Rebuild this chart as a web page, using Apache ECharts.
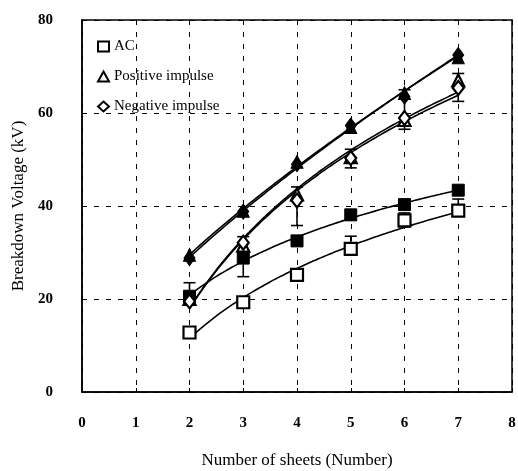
<!DOCTYPE html>
<html>
<head>
<meta charset="utf-8">
<script src="https://cdn.jsdelivr.net/npm/echarts@6/dist/echarts.min.js"></script>
<style>
  html, body { margin: 0; padding: 0; background: #fff; }
  #chart { width: 518px; height: 471px; }
</style>
</head>
<body>
<div id="chart"></div>
<script>
// sheets count
var sheets = [2, 3, 4, 5, 6, 7];

// open markers (legend entries)
var acOpen = [12.8, 19.3, 25.2, 30.8, 36.9, 39.0];
var posOpen = [20.0, 31.5, 42.5, 50.5, 58.5, 67.0];
var negOpen = [19.5, 32.1, 41.2, 50.3, 58.9, 65.4];

// filled markers
var acFilled = [20.6, 28.8, 32.5, 38.1, 40.3, 43.4];
var posFilled = [29.5, 39.0, 49.5, 57.0, 64.3, 72.0];
var negFilled = [28.8, 38.8, 49.0, 57.3, 63.5, 72.5];

// error bars [x, low, high]
var errBars = [
  [2, 19.5, 23.5], [3, 24.8, 33.4],
  [4, 35.8, 44.1], [5, 48.2, 52.2], [7, 62.5, 68.5],
  [6, 56.5, 65.0],
  [5, 30.0, 33.5], [6, 35.5, 38.5], [7, 38.0, 41.5]
];

var xTicks = [0, 1, 2, 3, 4, 5, 6, 7, 8];
var yTicks = [0, 20, 40, 60, 80];

var chart = echarts.init(document.getElementById('chart'));

function pairs(ys) {
  return sheets.map(function (x, i) { return [x, ys[i]]; });
}

// trendline fitted to the points: 'log' -> y = a*ln(x)+b, 'power' -> y = a*x^b
function trend(ys, kind) {
  var n = sheets.length, sx = 0, sy = 0, sxx = 0, sxy = 0;
  for (var i = 0; i < n; i++) {
    var lx = Math.log(sheets[i]);
    var ly = kind === 'power' ? Math.log(ys[i]) : ys[i];
    sx += lx; sy += ly; sxx += lx * lx; sxy += lx * ly;
  }
  var k = (n * sxy - sx * sy) / (n * sxx - sx * sx);
  var c = (sy - k * sx) / n;
  var out = [];
  for (var x = 2; x <= 7.001; x += 0.1) {
    var y = kind === 'power' ? Math.exp(c) * Math.pow(x, k) : k * Math.log(x) + c;
    out.push([x, y]);
  }
  return out;
}

var lineStyle = { color: '#000', width: 1.6 };
function trendSeries(ys, kind) {
  return {
    type: 'line', data: trend(ys, kind), showSymbol: false, smooth: true,
    lineStyle: lineStyle, silent: true, z: 2
  };
}

var openStyle = { color: '#fff', borderColor: '#000', borderWidth: 2.2, opacity: 1 };
var filledStyle = { color: '#000', borderColor: '#000', borderWidth: 1, opacity: 1 };

var font = 'Liberation Serif';

chart.setOption({
  animation: false,
  textStyle: { fontFamily: font },
  grid: {
    left: 82, right: 6, top: 20, bottom: 79,
    outerBoundsMode: 'none',
    show: true, borderColor: '#000', borderWidth: 1.5
  },
  legend: {
    orient: 'vertical', left: 92, top: 34, itemGap: 15,
    itemWidth: 11, itemHeight: 10,
    textStyle: { fontFamily: font, fontSize: 15, color: '#000' },
    data: ['AC', 'Positive impulse', 'Negative impulse']
  },
  xAxis: {
    type: 'value', min: 0, max: 8, interval: 1,
    name: 'Number of sheets (Number)', nameLocation: 'middle', nameGap: 60,
    nameTextStyle: { fontFamily: font, fontSize: 17, color: '#000' },
    axisLine: { lineStyle: { color: '#000', width: 1.5 } },
    axisTick: { inside: true, length: 4, lineStyle: { color: '#000' } },
    axisLabel: { fontFamily: font, fontSize: 15, fontWeight: 'bold', color: '#000', margin: 24,
      formatter: function (v) { return xTicks.indexOf(v) >= 0 ? String(v) : ''; } },
    splitLine: { show: true, lineStyle: { color: '#000', type: [5, 7], width: 1 } }
  },
  yAxis: {
    type: 'value', min: 0, max: 80, interval: 20,
    name: 'Breakdown Voltage (kV)', nameLocation: 'middle', nameGap: 54,
    nameTextStyle: { fontFamily: font, fontSize: 17, color: '#000' },
    axisLine: { show: true, lineStyle: { color: '#000', width: 1.5 } },
    axisTick: { show: true, inside: true, length: 4, lineStyle: { color: '#000' } },
    axisLabel: { fontFamily: font, fontSize: 15, fontWeight: 'bold', color: '#000', margin: 29,
      formatter: function (v) { return yTicks.indexOf(v) >= 0 ? String(v) : ''; } },
    splitLine: { show: true, lineStyle: { color: '#000', type: [5, 7], width: 1 } }
  },
  series: [
    trendSeries(acOpen, 'log'), trendSeries(acFilled, 'log'),
    trendSeries(posOpen, 'log'), trendSeries(posFilled, 'power'),
    trendSeries(negOpen, 'log'), trendSeries(negFilled, 'power'),
    {
      type: 'custom', silent: true, z: 3,
      data: errBars,
      renderItem: function (params, api) {
        var x = api.value(0);
        var lo = api.coord([x, api.value(1)]);
        var hi = api.coord([x, api.value(2)]);
        var s = { stroke: '#000', lineWidth: 1.6 };
        return {
          type: 'group', children: [
            { type: 'line', shape: { x1: lo[0], y1: lo[1], x2: hi[0], y2: hi[1] }, style: s },
            { type: 'line', shape: { x1: lo[0] - 6, y1: lo[1], x2: lo[0] + 6, y2: lo[1] }, style: s },
            { type: 'line', shape: { x1: hi[0] - 6, y1: hi[1], x2: hi[0] + 6, y2: hi[1] }, style: s }
          ]
        };
      }
    },
    { name: 'AC filled', type: 'scatter', data: pairs(acFilled), symbol: 'rect', symbolSize: 12, itemStyle: filledStyle, z: 4 },
    { name: 'Pos filled', type: 'scatter', data: pairs(posFilled), symbol: 'triangle', symbolSize: [12, 13], itemStyle: filledStyle, z: 4 },
    { name: 'Neg filled', type: 'scatter', data: pairs(negFilled), symbol: 'diamond', symbolSize: [11, 15], itemStyle: filledStyle, z: 4 },
    { name: 'AC', type: 'scatter', data: pairs(acOpen), symbol: 'rect', symbolSize: 12, itemStyle: openStyle, z: 5 },
    { name: 'Positive impulse', type: 'scatter', data: pairs(posOpen), symbol: 'triangle', symbolSize: [12, 12], itemStyle: openStyle, z: 5 },
    { name: 'Negative impulse', type: 'scatter', data: pairs(negOpen), symbol: 'diamond', symbolSize: [11, 14], itemStyle: openStyle, z: 5 }
  ]
});
</script>
</body>
</html>
